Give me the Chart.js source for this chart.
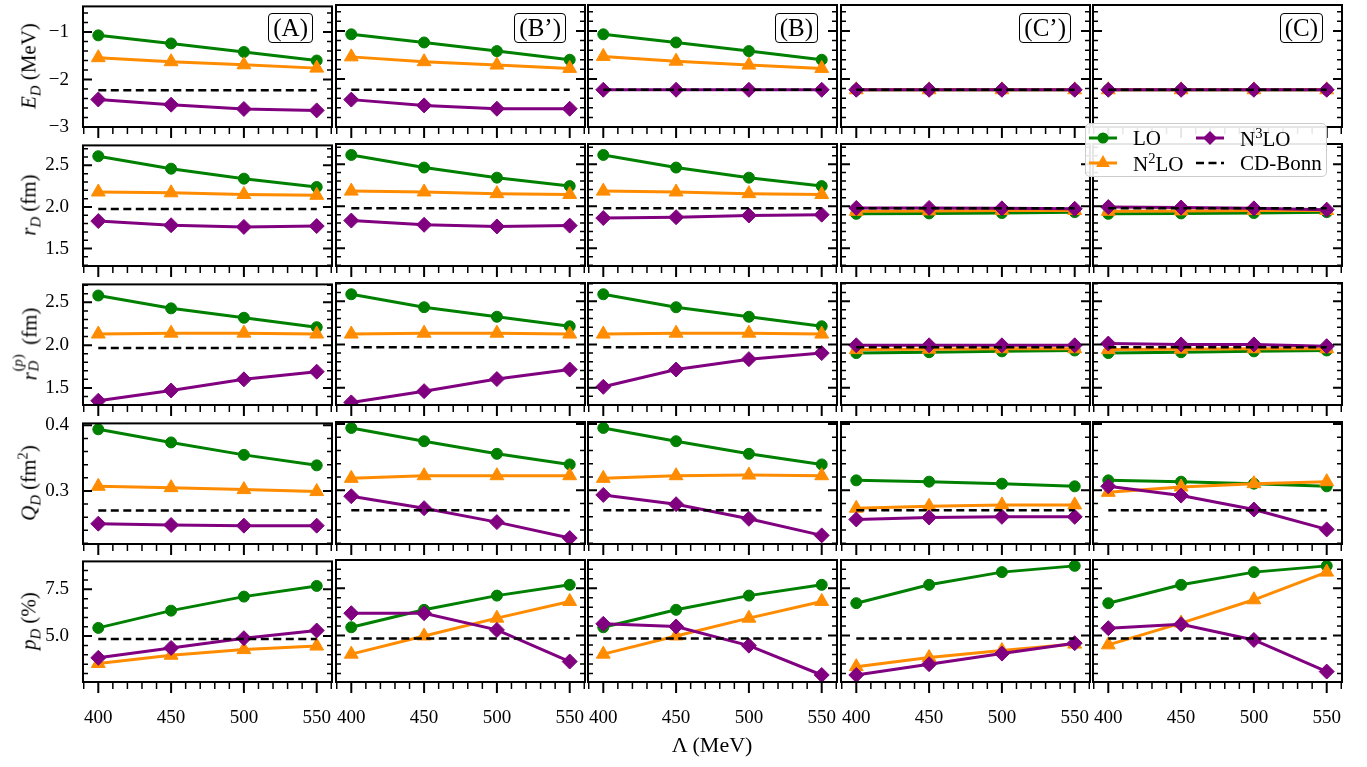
<!DOCTYPE html>
<html>
<head>
<meta charset="utf-8">
<script src="https://cdn.jsdelivr.net/npm/chart.js@4.4.1/dist/chart.umd.min.js"></script>
<style>
body { margin: 0; width: 1367px; height: 767px; background: #fff; position: relative; overflow: hidden;
       font-family: 'Liberation Serif', 'DejaVu Serif', serif; color: #000; }
canvas { position: absolute; }
.tag { position: absolute; font-size: 25px; line-height: 25px; padding: 1px 4px 2px; border: 1.5px solid #000;
       border-radius: 4px; background: #fff; white-space: nowrap; }
.ytitle { position: absolute; font-size: 21px; white-space: nowrap; transform: translate(-50%, -50%) rotate(-90deg); }
.ytitle sub, .ytitle sup { font-size: 0.7em; line-height: 0; }
.ss { position: relative; display: inline-block; width: 1.3em; height: 1em; vertical-align: baseline; }
.ss .sp { position: absolute; left: 0.05em; top: -0.35em; font-size: 0.7em; line-height: 1; }
.ss .sb { position: absolute; left: 0.05em; top: 0.75em; font-size: 0.7em; line-height: 1; }
.xtitle { position: absolute; left: 712px; top: 745px; font-size: 22px; transform: translate(-50%, -50%); white-space: nowrap; }
#legend { position: absolute; left: 1085px; top: 123px; width: 240px; height: 52px; border: 1.5px solid #ccc;
          border-radius: 5px; background: rgba(255,255,255,0.9); font-size: 21px; }
.item { position: absolute; display: flex; align-items: center; height: 24px; white-space: nowrap; }
.item svg { margin-right: 16px; }
.item sup { font-size: 0.7em; }
</style>
</head>
<body>
<script>
// x values: cutoff Lambda (MeV)
const lambdaMeV = [400, 450, 500, 550];
const schemes = ['(A)', '(B\u2019)', '(B)', '(C\u2019)', '(C)'];

// deuteron binding energy E_D (MeV), one array per scheme A, B', B, C', C
const eD_LO = [
  [-1.07, -1.24, -1.42, -1.60],
  [-1.07, -1.24, -1.42, -1.60],
  [-1.07, -1.24, -1.42, -1.60],
  [-2.2246, -2.2246, -2.2246, -2.2246],
  [-2.2246, -2.2246, -2.2246, -2.2246]
];
const eD_N2LO = [
  [-1.54, -1.625, -1.69, -1.76],
  [-1.54, -1.64, -1.71, -1.78],
  [-1.53, -1.63, -1.71, -1.78],
  [-2.2246, -2.2246, -2.2246, -2.2246],
  [-2.2246, -2.2246, -2.2246, -2.2246]
];
const eD_N3LO = [
  [-2.42, -2.53, -2.62, -2.65],
  [-2.43, -2.55, -2.62, -2.62],
  [-2.2246, -2.2246, -2.2246, -2.2246],
  [-2.2246, -2.2246, -2.2246, -2.2246],
  [-2.2246, -2.2246, -2.2246, -2.2246]
];

// matter radius r_D (fm)
const rD_LO = [
  [2.61, 2.46, 2.34, 2.24],
  [2.61, 2.46, 2.34, 2.24],
  [2.61, 2.46, 2.34, 2.24],
  [1.91, 1.915, 1.92, 1.93],
  [1.91, 1.915, 1.92, 1.93]
];
const rD_N2LO = [
  [2.18, 2.17, 2.15, 2.14],
  [2.18, 2.17, 2.15, 2.14],
  [2.18, 2.17, 2.15, 2.14],
  [1.94, 1.945, 1.95, 1.95],
  [1.94, 1.945, 1.95, 1.95]
];
const rD_N3LO = [
  [1.83, 1.78, 1.76, 1.77],
  [1.83, 1.78, 1.76, 1.77],
  [1.86, 1.87, 1.89, 1.90],
  [1.98, 1.98, 1.975, 1.97],
  [1.99, 1.985, 1.975, 1.96]
];

// point-proton radius r_D^(p) (fm)
const rpD_LO = [
  [2.58, 2.43, 2.32, 2.21],
  [2.58, 2.43, 2.32, 2.21],
  [2.58, 2.43, 2.32, 2.21],
  [1.90, 1.91, 1.92, 1.93],
  [1.90, 1.91, 1.92, 1.93]
];
const rpD_N2LO = [
  [2.13, 2.14, 2.14, 2.13],
  [2.12, 2.13, 2.13, 2.12],
  [2.12, 2.13, 2.13, 2.12],
  [1.94, 1.945, 1.95, 1.95],
  [1.94, 1.945, 1.95, 1.95]
];
const rpD_N3LO = [
  [1.35, 1.47, 1.60, 1.69],
  [1.33, 1.46, 1.60, 1.71],
  [1.51, 1.71, 1.83, 1.90],
  [1.99, 1.99, 1.99, 1.99],
  [2.01, 2.00, 2.00, 1.98]
];

// quadrupole moment Q_D (fm^2)
const qD_LO = [
  [0.394, 0.374, 0.355, 0.339],
  [0.394, 0.374, 0.355, 0.339],
  [0.394, 0.374, 0.355, 0.339],
  [0.315, 0.313, 0.310, 0.306],
  [0.315, 0.313, 0.310, 0.306]
];
const qD_N2LO = [
  [0.307, 0.305, 0.302, 0.299],
  [0.318, 0.322, 0.322, 0.322],
  [0.318, 0.322, 0.323, 0.322],
  [0.273, 0.276, 0.278, 0.278],
  [0.297, 0.305, 0.310, 0.313]
];
const qD_N3LO = [
  [0.250, 0.248, 0.247, 0.247],
  [0.291, 0.273, 0.252, 0.228],
  [0.293, 0.279, 0.257, 0.232],
  [0.256, 0.259, 0.260, 0.260],
  [0.306, 0.292, 0.271, 0.241]
];

// D-state probability p_D (%)
const pD_LO = [
  [5.44, 6.36, 7.11, 7.68],
  [5.44, 6.36, 7.11, 7.68],
  [5.44, 6.36, 7.11, 7.68],
  [6.71, 7.68, 8.35, 8.68],
  [6.71, 7.68, 8.35, 8.68]
];
const pD_N2LO = [
  [3.54, 3.98, 4.28, 4.47],
  [4.02, 4.98, 5.92, 6.80],
  [4.02, 4.98, 5.92, 6.80],
  [3.36, 3.84, 4.21, 4.55],
  [4.51, 5.66, 6.89, 8.35]
];
const pD_N3LO = [
  [3.84, 4.37, 4.89, 5.30],
  [6.18, 6.18, 5.30, 3.63],
  [5.62, 5.48, 4.47, 2.92],
  [2.92, 3.49, 4.05, 4.60],
  [5.39, 5.60, 4.77, 3.10]
];

// CD-Bonn reference value per row
const cdBonn = [-2.2246, 1.975, 1.967, 0.270, 4.85];

// axes
const xRange = [389.5, 560.5];
const xTickVals = [400, 450, 500, 550];
const xTickText = ['400', '450', '500', '550'];
const yRanges = [[-3, -0.46], [1.29, 2.74], [1.30, 2.71], [0.219, 0.403], [2.55, 8.99]];
const yTickVals = [[-3, -2, -1], [1.5, 2.0, 2.5], [1.5, 2.0, 2.5], [0.3, 0.4], [5.0, 7.5]];
const yTickText = [['\u22123', '\u22122', '\u22121'], ['1.5', '2.0', '2.5'], ['1.5', '2.0', '2.5'], ['0.3', '0.4'], ['5.0', '7.5']];
const yMajor = [1, 0.5, 0.5, 0.1, 2.5];
const yMinor = [0.2, 0.1, 0.1, 0.02, 0.5];

const yTitles = [
  '<i>E</i><sub><i>D</i></sub> (MeV)',
  '<i>r</i><sub><i>D</i></sub> (fm)',
  '<i>r</i><span class="ss"><span class="sp">(<i>p</i>)</span><span class="sb"><i>D</i></span></span>(fm)',
  '<i>Q</i><sub><i>D</i></sub> (fm<sup>2</sup>)',
  '<i>p</i><sub><i>D</i></sub> (%)'
];

const rowsData = [
  [eD_LO, eD_N2LO, eD_N3LO],
  [rD_LO, rD_N2LO, rD_N3LO],
  [rpD_LO, rpD_N2LO, rpD_N3LO],
  [qD_LO, qD_N2LO, qD_N3LO],
  [pD_LO, pD_N2LO, pD_N3LO]
];

const GREEN = '#008000', ORANGE = '#ff8c00', PURPLE = '#800080';

// panel geometry
const colLeft = [83, 336, 588, 841, 1093];
const rowTop = [5, 144, 283, 422, 560];
const W = 249, H = 122;
const PL = 50, PR = 20, PT = 16, PB = 46;

Chart.defaults.font.family = "'Liberation Serif', 'DejaVu Serif', serif";
Chart.defaults.font.size = 19;
Chart.defaults.color = '#000';

// matplotlib-like frame with inward y ticks and outward x ticks
const frameTicks = {
  id: 'frameTicks',
  afterDatasetsDraw(chart, args, opts) {
    const { ctx, chartArea: a, scales: { x, y } } = chart;
    ctx.save();
    ctx.strokeStyle = '#000';
    ctx.lineCap = 'butt';
    for (let k = Math.ceil(y.min / opts.minor - 1e-6); k * opts.minor <= y.max + 1e-9; k++) {
      const v = k * opts.minor;
      const q = v / opts.major;
      const maj = Math.abs(q - Math.round(q)) < 1e-6;
      const py = y.getPixelForValue(v);
      const len = maj ? 9 : 5;
      ctx.lineWidth = maj ? 2 : 1.5;
      ctx.beginPath();
      ctx.moveTo(a.left, py); ctx.lineTo(a.left + len, py);
      ctx.moveTo(a.right, py); ctx.lineTo(a.right - len, py);
      ctx.stroke();
    }
    for (let v = 390; v <= x.max; v += 10) {
      const px = x.getPixelForValue(v);
      const maj = v % 50 === 0;
      ctx.lineWidth = maj ? 2 : 1.5;
      ctx.beginPath();
      ctx.moveTo(px, a.bottom); ctx.lineTo(px, a.bottom + (maj ? 11 : 7));
      ctx.stroke();
    }
    ctx.lineWidth = 2;
    ctx.strokeRect(a.left, a.top, a.right - a.left, a.bottom - a.top);
    ctx.restore();
  }
};

function series(label, vals, color, style, radius, ord) {
  return {
    label, order: ord, showLine: true,
    data: lambdaMeV.map((x, i) => ({ x, y: vals[i] })),
    borderColor: color, backgroundColor: color, borderWidth: 3,
    pointStyle: style, pointRadius: radius, pointBorderWidth: 1,
    pointBorderColor: color, pointBackgroundColor: color
  };
}

for (let r = 0; r < 5; r++) {
  for (let c = 0; c < 5; c++) {
    const cv = document.createElement('canvas');
    cv.width = W + PL + PR;
    cv.height = H + PT + PB;
    cv.style.left = (colLeft[c] - PL) + 'px';
    cv.style.top = (rowTop[r] - PT) + 'px';
    document.body.appendChild(cv);

    const [lo, n2, n3] = rowsData[r];
    const ref = cdBonn[r];
    const datasets = [
      series('LO', lo[c], GREEN, 'circle', 5.5, 3),
      series('N2LO', n2[c], ORANGE, 'triangle', 8, 2),
      series('N3LO', n3[c], PURPLE, 'rectRot', 7.5, 1),
      {
        label: 'CD-Bonn', order: 0, showLine: true,
        data: [{ x: lambdaMeV[0], y: ref }, { x: lambdaMeV[lambdaMeV.length - 1], y: ref }],
        borderColor: '#000', borderWidth: 2.5, borderDash: [8, 4.5], pointRadius: 0
      }
    ];

    new Chart(cv, {
      type: 'scatter',
      data: { datasets },
      options: {
        responsive: false, animation: false, devicePixelRatio: 1,
        layout: { padding: { left: 0, right: PR, top: PT, bottom: 0 } },
        plugins: {
          legend: { display: false }, tooltip: { enabled: false },
          frameTicks: { minor: yMinor[r], major: yMajor[r] }
        },
        scales: {
          x: {
            type: 'linear', min: xRange[0], max: xRange[1],
            grid: { display: false }, border: { display: false },
            afterBuildTicks: s => { s.ticks = xTickVals.map(v => ({ value: v })); },
            ticks: {
              display: r === 4, padding: 17, autoSkip: false, maxRotation: 0,
              callback: v => xTickText[xTickVals.indexOf(v)]
            },
            afterFit: s => { s.height = PB; }
          },
          y: {
            type: 'linear', min: yRanges[r][0], max: yRanges[r][1],
            grid: { display: false }, border: { display: false },
            afterBuildTicks: s => { s.ticks = yTickVals[r].map(v => ({ value: v })); },
            ticks: {
              display: c === 0, padding: 6, autoSkip: false,
              callback: v => yTickText[r][yTickVals[r].indexOf(v)]
            },
            afterFit: s => { s.width = PL; }
          }
        }
      },
      plugins: [frameTicks]
    });

    if (r === 0) {
      const t = document.createElement('div');
      t.className = 'tag';
      t.textContent = schemes[c];
      t.style.right = (1367 - (colLeft[c] + W - 19)) + 'px';
      t.style.top = (rowTop[0] + 8) + 'px';
      document.body.appendChild(t);
    }
  }
  const yt = document.createElement('div');
  yt.className = 'ytitle';
  yt.innerHTML = yTitles[r];
  yt.style.left = '29px';
  yt.style.top = (rowTop[r] + H / 2) + 'px';
  document.body.appendChild(yt);
}

const xt = document.createElement('div');
xt.className = 'xtitle';
xt.innerHTML = '\u039B (MeV)';
document.body.appendChild(xt);

// legend
const legendItems = [
  { html: 'LO', color: GREEN, mark: 'circle', x: 3, y: 2 },
  { html: 'N<sup>3</sup>LO', color: PURPLE, mark: 'diamond', x: 110, y: 2 },
  { html: 'N<sup>2</sup>LO', color: ORANGE, mark: 'triangle', x: 3, y: 27 },
  { html: 'CD-Bonn', color: '#000', mark: 'dash', x: 110, y: 27 }
];
const lg = document.createElement('div');
lg.id = 'legend';
legendItems.forEach(it => {
  let m = '';
  if (it.mark === 'circle') m = `<circle cx="14" cy="10" r="5.5" fill="${it.color}"/>`;
  if (it.mark === 'triangle') m = `<polygon points="14,2 20.9,14 7.1,14" fill="${it.color}"/>`;
  if (it.mark === 'diamond') m = `<polygon points="14,3 21,10 14,17 7,10" fill="${it.color}"/>`;
  const line = it.mark === 'dash'
    ? `<line x1="0" y1="10" x2="28" y2="10" stroke="#000" stroke-width="2.5" stroke-dasharray="8,4.5"/>`
    : `<line x1="0" y1="10" x2="28" y2="10" stroke="${it.color}" stroke-width="3"/>`;
  const d = document.createElement('div');
  d.className = 'item';
  d.style.left = it.x + 'px';
  d.style.top = it.y + 'px';
  d.innerHTML = `<svg width="28" height="20">${line}${m}</svg><span>${it.html}</span>`;
  lg.appendChild(d);
});
document.body.appendChild(lg);
</script>
</body>
</html>
